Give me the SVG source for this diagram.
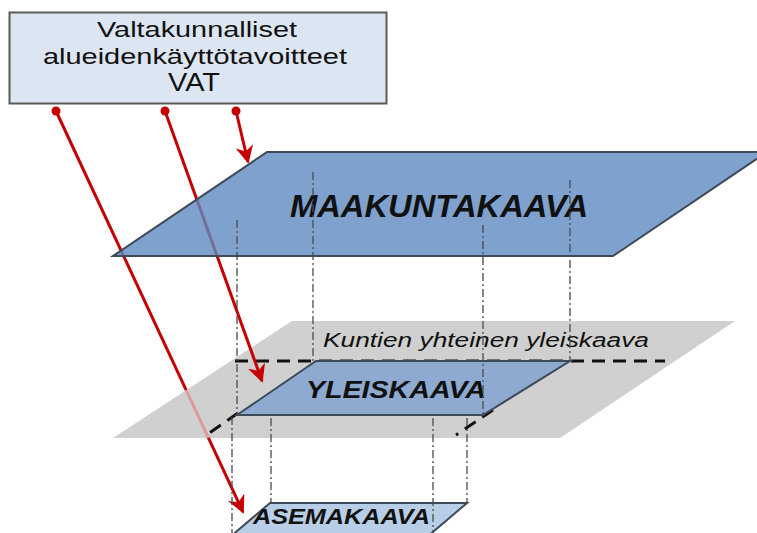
<svg xmlns="http://www.w3.org/2000/svg" width="757" height="533" viewBox="0 0 757 533">
  <defs>
    <style>
      .plane { stroke: #3e4a58; stroke-width: 2; stroke-linejoin: miter; }
      .proj { fill: none; stroke: #4a4a4a; stroke-width: 1.3; stroke-dasharray: 8 3 2 3; }
      .bound { fill: none; stroke: #111; stroke-width: 3; stroke-dasharray: 13 8; }
      .arrow { fill: none; stroke-width: 3; marker-end: url(#head); }
      .dot { fill: #c40000; }
      .lbl { font-family: "Liberation Sans", Arial, sans-serif; fill: #111; }
      .bi { font-weight: bold; font-style: italic; }
    </style>
    <marker id="head" viewBox="0 0 10 10" refX="9" refY="5" markerWidth="6" markerHeight="6" markerUnits="strokeWidth" orient="auto">
      <path d="M0,0 L10,5 L0,10 L3,5 z" fill="#c40000"/>
    </marker>
    <linearGradient id="fade1" gradientUnits="userSpaceOnUse" x1="56" y1="111" x2="243" y2="512">
      <stop offset="0" stop-color="#c40000"/>
      <stop offset="0.696" stop-color="#c40000"/>
      <stop offset="0.696" stop-color="#dc9a9a"/>
      <stop offset="0.815" stop-color="#dc9a9a"/>
      <stop offset="0.815" stop-color="#c40000"/>
      <stop offset="1" stop-color="#c40000"/>
    </linearGradient>
  </defs>

  <rect width="757" height="533" fill="#ffffff"/>

  <g id="kuntien-yhteinen-yleiskaava">
    <polygon points="292,321 735,321 560,438 113,438" fill="#d0d0d0"/>
    <line class="bound" x1="235" y1="361" x2="665" y2="361"/>
    <line class="bound" x1="238" y1="413" x2="205" y2="436"/>
    <line class="bound" x1="493" y1="410" x2="456" y2="435"/>
    <text class="lbl" x="323" y="347" font-size="20" font-style="italic" fill="#222" textLength="326" lengthAdjust="spacingAndGlyphs">Kuntien yhteinen yleiskaava</text>
  </g>

  <g id="connectors">
    <line class="arrow" x1="56" y1="111" x2="243" y2="512" stroke="url(#fade1)"/>
    <line class="arrow" x1="165" y1="111" x2="262" y2="381" stroke="#c40000"/>
    <line class="arrow" x1="236" y1="111" x2="248" y2="162" stroke="#c40000"/>
    <circle class="dot" cx="56" cy="111" r="4.5"/>
    <circle class="dot" cx="165" cy="111" r="4.5"/>
    <circle class="dot" cx="236" cy="111" r="4.5"/>
  </g>

  <g id="maakuntakaava">
    <polygon class="plane" points="267,152 767,152 613,256 113,256" fill="#5e8bc0" fill-opacity="0.8"/>
    <text class="lbl bi" x="290" y="217" font-size="31" textLength="298" lengthAdjust="spacingAndGlyphs">MAAKUNTAKAAVA</text>
  </g>

  <g id="yleiskaava">
    <polygon class="plane" points="316,361 570,361 483,415 237,415" fill="#8eaad0"/>
    <text class="lbl bi" x="306" y="398" font-size="24" textLength="180" lengthAdjust="spacingAndGlyphs">YLEISKAAVA</text>
  </g>

  <g id="asemakaava">
    <polygon class="plane" points="270,503 467,503 427,537 230,537" fill="#b8cde6"/>
    <text class="lbl bi" x="253" y="524" font-size="22" textLength="177" lengthAdjust="spacingAndGlyphs">ASEMAKAAVA</text>
  </g>

  <g id="projections">
    <line class="proj" x1="237" y1="220" x2="237" y2="415"/>
    <line class="proj" x1="313" y1="172" x2="313" y2="361"/>
    <line class="proj" x1="483" y1="225" x2="483" y2="415"/>
    <line class="proj" x1="570" y1="180" x2="570" y2="361"/>
    <line class="proj" x1="232" y1="417" x2="232" y2="533"/>
    <line class="proj" x1="271" y1="418" x2="271" y2="503"/>
    <line class="proj" x1="433" y1="418" x2="433" y2="533"/>
    <line class="proj" x1="467" y1="418" x2="467" y2="503"/>
  </g>

  <g id="vat">
    <rect x="9.5" y="12.5" width="377" height="91" fill="#dce6f2" stroke="#5a5a5a" stroke-width="2"/>
    <text class="lbl" x="97" y="37" font-size="22" fill="#222" textLength="200" lengthAdjust="spacingAndGlyphs">Valtakunnalliset</text>
    <text class="lbl" x="43" y="64" font-size="22" fill="#222" textLength="304" lengthAdjust="spacingAndGlyphs">alueidenkäyttötavoitteet</text>
    <text class="lbl" x="168" y="91" font-size="26" fill="#222" textLength="52" lengthAdjust="spacingAndGlyphs">VAT</text>
  </g>
</svg>
